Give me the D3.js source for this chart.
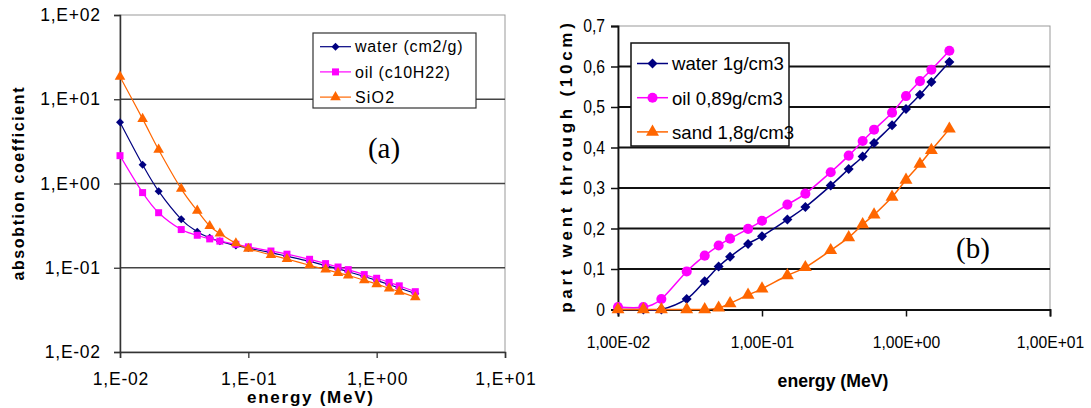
<!DOCTYPE html>
<html>
<head>
<meta charset="utf-8">
<script src="https://cdn.jsdelivr.net/npm/d3@7"></script>
<style>
  body { margin: 0; background: #fff; }
  svg { display: block; }
  text { font-family: Arial, "Liberation Sans", sans-serif; fill: #000; }
</style>
</head>
<body>
<svg id="chart" width="1091" height="408"></svg>
<script>
// energies (MeV), same for every series
var energy = [0.01, 0.015, 0.02, 0.03, 0.04, 0.05, 0.06, 0.08, 0.1, 0.15, 0.2, 0.3, 0.4, 0.5, 0.6, 0.8, 1.0, 1.25, 1.5, 2.0];

// (a) absorption coefficient
var waterAbs = [5.33, 1.67, 0.81, 0.376, 0.268, 0.227, 0.206, 0.184, 0.171, 0.151, 0.137, 0.119, 0.106, 0.0969, 0.0896, 0.0787, 0.0707, 0.0632, 0.0575, 0.0494];
var oilAbs = [2.14, 0.78, 0.45, 0.284, 0.243, 0.22, 0.207, 0.19, 0.177, 0.158, 0.145, 0.126, 0.112, 0.102, 0.095, 0.083, 0.075, 0.067, 0.061, 0.052];
var sio2Abs = [18.5, 5.85, 2.52, 0.865, 0.476, 0.313, 0.255, 0.195, 0.168, 0.142, 0.127, 0.107, 0.0955, 0.087, 0.081, 0.071, 0.064, 0.057, 0.052, 0.0447];

// (b) part went through 10 cm
var waterPart = [0, 0, 0, 0.026, 0.07, 0.106, 0.13, 0.162, 0.181, 0.222, 0.253, 0.306, 0.347, 0.378, 0.411, 0.455, 0.495, 0.53, 0.562, 0.611];
var oilPart = [0.006, 0.006, 0.026, 0.094, 0.133, 0.158, 0.175, 0.199, 0.219, 0.259, 0.286, 0.339, 0.38, 0.416, 0.444, 0.486, 0.527, 0.564, 0.592, 0.639];
var sandPart = [0, 0, 0, 0, 0, 0.004, 0.015, 0.036, 0.051, 0.084, 0.104, 0.146, 0.178, 0.21, 0.234, 0.278, 0.32, 0.359, 0.393, 0.446];

var xTicks = [0.01, 0.1, 1, 10];
var xLabelsA = ["1,E-02", "1,E-01", "1,E+00", "1,E+01"];
var yTicksA = [0.01, 0.1, 1, 10, 100];
var yLabelsA = ["1,E-02", "1,E-01", "1,E+00", "1,E+01", "1,E+02"];
var legendA = ["water (cm2/g)", "oil (c10H22)", "SiO2"];

var xLabelsB = ["1,00E-02", "1,00E-01", "1,00E+00", "1,00E+01"];
var yTicksB = [0, 0.1, 0.2, 0.3, 0.4, 0.5, 0.6, 0.7];
var yLabelsB = ["0", "0,1", "0,2", "0,3", "0,4", "0,5", "0,6", "0,7"];
var legendB = ["water 1g/cm3", "oil 0,89g/cm3", "sand 1,8g/cm3"];

var navy = "#000080", magenta = "#ff00ff", orange = "#ff6600";
var serif = "'Liberation Serif', 'Times New Roman', 'DejaVu Serif', serif";

var svg = d3.select("#chart");

// stretch (letter spacing) or squeeze text, the original picture is a bit distorted
function fit(sel, f) {
    sel.each(function () {
        var L = this.getComputedTextLength();
        d3.select(this).attr("textLength", L * f)
            .attr("lengthAdjust", f > 1 ? "spacing" : "spacingAndGlyphs");
    });
}

function marker(g, kind, x, y, s, color) {
    var sym;
    if (kind === "diamond") {
        sym = d3.symbol().type(d3.symbolSquare).size(s * s * 0.5);
        g.append("path").attr("d", sym()).attr("fill", color)
            .attr("transform", "translate(" + x + "," + y + ") rotate(45)");
        return;
    }
    if (kind === "square") sym = d3.symbol().type(d3.symbolSquare).size(s * s);
    if (kind === "circle") sym = d3.symbol().type(d3.symbolCircle).size(s * s * 0.8);
    if (kind === "triangle") sym = d3.symbol().type(d3.symbolTriangle).size(s * s * 0.6);
    g.append("path").attr("d", sym()).attr("fill", color)
        .attr("transform", "translate(" + x + "," + y + ")");
}

function drawSeries(g, x, y, vals, color, kind, s, lw) {
    var pts = energy.map((e, i) => [x(e), y(vals[i])]);
    g.append("path")
        .attr("d", d3.line().curve(d3.curveCardinal.tension(0))(pts))
        .attr("fill", "none").attr("stroke", color).attr("stroke-width", lw);
    pts.forEach(p => marker(g, kind, p[0], p[1], s, color));
}

// ---------- chart (a) ----------
(function () {
    var x = d3.scaleLog().domain([0.01, 10]).range([120, 505]);
    var y = d3.scaleLog().domain([0.01, 100]).range([352, 15]);
    var g = svg.append("g");

    g.append("rect").attr("x", 120).attr("y", 15).attr("width", 385).attr("height", 337)
        .attr("fill", "none").attr("stroke", "#999").attr("stroke-width", 1);

    g.selectAll(".grid").data(yTicksA.slice(1, 4)).enter().append("line")
        .attr("x1", 120).attr("x2", 505).attr("y1", d => y(d)).attr("y2", d => y(d))
        .attr("stroke", "#444").attr("stroke-width", 1.3);

    var ya = g.append("g").attr("transform", "translate(120,0)")
        .call(d3.axisLeft(y).tickValues(yTicksA).tickSize(6).tickFormat((d, i) => yLabelsA[i]));
    var xa = g.append("g").attr("transform", "translate(0,352)")
        .call(d3.axisBottom(x).tickValues(xTicks).tickSize(6).tickFormat((d, i) => xLabelsA[i]));
    [ya, xa].forEach(a => {
        a.select(".domain").attr("stroke", "#333").attr("stroke-width", 1.5);
        a.selectAll(".tick line").attr("stroke", "#333").attr("stroke-width", 1.3);
        a.selectAll("text").attr("font-size", 17.5);
    });
    ya.selectAll("text").attr("x", -20);
    xa.selectAll("text").attr("y", 21);
    fit(ya.selectAll("text"), 1.07);
    fit(xa.selectAll("text"), 1.08);

    drawSeries(g, x, y, waterAbs, navy, "diamond", 8, 1.2);
    drawSeries(g, x, y, oilAbs, magenta, "square", 7, 1.2);
    drawSeries(g, x, y, sio2Abs, orange, "triangle", 9, 1.2);

    // legend
    var lg = g.append("g");
    lg.append("rect").attr("x", 313).attr("y", 33).attr("width", 163).attr("height", 75)
        .attr("fill", "#fff").attr("stroke", "#333").attr("stroke-width", 1.2);
    var kinds = ["diamond", "square", "triangle"], cols = [navy, magenta, orange], sz = [8, 7, 9];
    legendA.forEach((t, i) => {
        var yy = 46.7 + i * 25.2;
        lg.append("line").attr("x1", 320).attr("x2", 351).attr("y1", yy).attr("y2", yy)
            .attr("stroke", cols[i]).attr("stroke-width", 1.2);
        marker(lg, kinds[i], 335.5, yy, sz[i], cols[i]);
        var tx = lg.append("text").attr("x", 355).attr("y", yy).attr("dy", "0.36em")
            .attr("font-size", 16).text(t);
        fit(tx, 1.1);
    });

    g.append("text").attr("x", 384).attr("y", 158).attr("text-anchor", "middle")
        .style("font-family", serif).attr("font-size", 29).text("(a)");

    var t1 = g.append("text").attr("x", 310).attr("y", 403).attr("text-anchor", "middle")
        .attr("font-weight", "bold").attr("font-size", 17).text("energy (MeV)");
    fit(t1, 1.18);
    var t2 = g.append("text").attr("transform", "translate(24,184) rotate(-90)").attr("text-anchor", "middle")
        .attr("font-weight", "bold").attr("font-size", 16).text("absobtion coefficient");
    fit(t2, 1.2);
})();

// ---------- chart (b) ----------
(function () {
    var x = d3.scaleLog().domain([0.01, 10]).range([618, 1050]);
    var y = d3.scaleLinear().domain([0, 0.7]).range([309.5, 26]);
    var g = svg.append("g");

    g.append("rect").attr("x", 618).attr("y", 26).attr("width", 432).attr("height", 283.5)
        .attr("fill", "none").attr("stroke", "#999").attr("stroke-width", 1);

    g.selectAll(".grid").data(yTicksB.slice(1, 7)).enter().append("line")
        .attr("x1", 618).attr("x2", 1050).attr("y1", d => y(d)).attr("y2", d => y(d))
        .attr("stroke", "#111").attr("stroke-width", 1.8);

    var ya = g.append("g").attr("transform", "translate(618,0)")
        .call(d3.axisLeft(y).tickValues(yTicksB).tickSize(7).tickFormat((d, i) => yLabelsB[i]));
    var xa = g.append("g").attr("transform", "translate(0,309.5)")
        .call(d3.axisBottom(x).tickValues(xTicks).tickSize(7).tickFormat((d, i) => xLabelsB[i]));
    [ya, xa].forEach(a => {
        a.select(".domain").attr("stroke", "#111").attr("stroke-width", 1.8);
        a.selectAll(".tick line").attr("stroke", "#111").attr("stroke-width", 1.5);
    });
    ya.selectAll("text").attr("x", -13).attr("font-size", 18.5);
    xa.selectAll("text").attr("y", 27).attr("font-size", 16.5);
    fit(ya.selectAll("text"), 0.85);
    fit(xa.selectAll("text"), 0.95);

    drawSeries(g, x, y, waterPart, navy, "diamond", 10, 1.5);
    drawSeries(g, x, y, oilPart, magenta, "circle", 10, 1.5);
    drawSeries(g, x, y, sandPart, orange, "triangle", 11, 1.5);

    var lg = g.append("g");
    lg.append("rect").attr("x", 631).attr("y", 43).attr("width", 158).attr("height", 103)
        .attr("fill", "#fff").attr("stroke", "#111").attr("stroke-width", 1.5);
    var kinds = ["diamond", "circle", "triangle"], cols = [navy, magenta, orange], sz = [10, 10, 11];
    legendB.forEach((t, i) => {
        var yy = 63.5 + i * 34.2;
        lg.append("line").attr("x1", 637).attr("x2", 668).attr("y1", yy).attr("y2", yy)
            .attr("stroke", cols[i]).attr("stroke-width", 1.5);
        marker(lg, kinds[i], 652.5, yy, sz[i], cols[i]);
        var tx = lg.append("text").attr("x", 672).attr("y", yy).attr("dy", "0.36em")
            .attr("font-size", 19).text(t);
        fit(tx, 0.98);
    });

    g.append("text").attr("x", 973).attr("y", 258).attr("text-anchor", "middle")
        .style("font-family", serif).attr("font-size", 29).text("(b)");

    var t1 = g.append("text").attr("x", 833).attr("y", 387).attr("text-anchor", "middle")
        .attr("font-weight", "bold").attr("font-size", 18).text("energy (MeV)");
    fit(t1, 0.98);
    var t2 = g.append("text").attr("transform", "translate(572,168) rotate(-90)").attr("text-anchor", "middle")
        .attr("font-weight", "bold").attr("font-size", 17).text("part went through (10cm)");
    fit(t2, 1.42);
})();
</script>
</body>
</html>
